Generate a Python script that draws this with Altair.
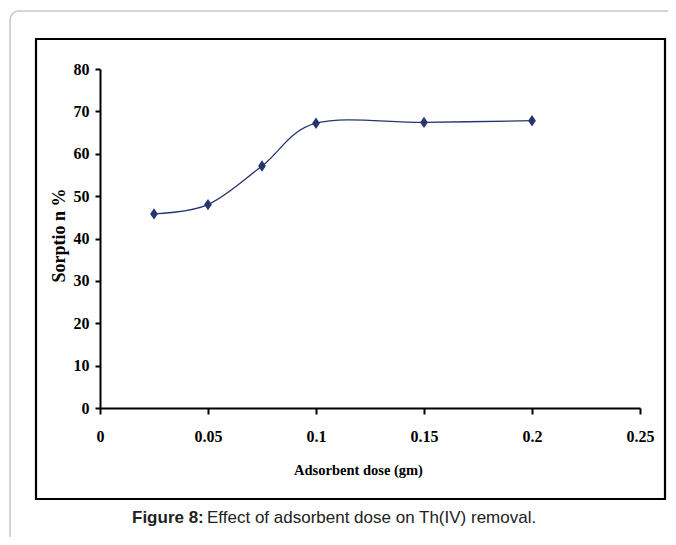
import altair as alt
import pandas as pd

# Data
dose = [0.025, 0.05, 0.075, 0.1, 0.15, 0.2]
sorption = [45.8, 48.0, 57.1, 67.2, 67.4, 67.8]
x_ticks = [0, 0.05, 0.1, 0.15, 0.2, 0.25]
y_ticks = [0, 10, 20, 30, 40, 50, 60, 70, 80]
caption_bold = "Figure 8:"
caption_rest = "Effect of adsorbent dose on Th(IV) removal."
x_title = "Adsorbent dose (gm)"
y_title = "Sorptio n %"

df = pd.DataFrame({"dose": dose, "sorption": sorption})
one = pd.DataFrame({"k": [0]})

W, H = 540, 339
SERIF = "Liberation Serif"
SANS = "Liberation Sans"
NAVY = "#26346f"

x_enc = alt.X(
    "dose:Q",
    scale=alt.Scale(domain=[0, 0.25], nice=False, zero=True),
    axis=alt.Axis(
        values=x_ticks, format="~g", title=x_title, grid=False,
        domainColor="black", domainWidth=2, tickColor="black", tickWidth=2,
        tickSize=6, labelPadding=14, labelFont=SERIF, labelFontWeight="bold",
        labelFontSize=16, labelColor="black", labelFlush=False,
        titleFont=SERIF, titleFontWeight="bold", titleFontSize=14.5,
        titleColor="black", titleX=258, titleY=62, titleBaseline="middle",
        titleAlign="center",
    ),
)
y_enc = alt.Y(
    "sorption:Q",
    scale=alt.Scale(domain=[0, 80], nice=False),
    axis=alt.Axis(
        values=y_ticks, title=y_title, grid=False,
        domainColor="black", domainWidth=2, tickColor="black", tickWidth=2,
        tickSize=5, labelPadding=6, labelFont=SERIF, labelFontWeight="bold",
        labelFontSize=16, labelColor="black", labelFlush=False,
        titleFont=SERIF, titleFontWeight="bold", titleFontSize=18,
        titleColor="black", titleX=-41, titleY=166, titleAngle=270,
        titleAlign="center", titleBaseline="middle",
    ),
)

outer = alt.Chart(one).mark_rect(
    fill=None, stroke="#c8c8c8", strokeWidth=1.5, cornerRadius=9
).encode(x=alt.value(-90), x2=alt.value(620), y=alt.value(-58), y2=alt.value(520))

inner = alt.Chart(one).mark_rect(
    fill=None, stroke="black", strokeWidth=2.2
).encode(x=alt.value(-64), x2=alt.value(565), y=alt.value(-30), y2=alt.value(430))

line = alt.Chart(df).mark_line(
    interpolate="cardinal", color=NAVY, strokeWidth=1.3
).encode(x=x_enc, y=y_enc)

pts = alt.Chart(df).mark_point(
    shape="M0,-1L0.68,0L0,1L-0.68,0Z", filled=True, size=130,
    color=NAVY, opacity=1, strokeWidth=0
).encode(x="dose:Q", y="sorption:Q")

cap1 = alt.Chart(one).mark_text(
    text=caption_bold, font=SANS, fontWeight="bold", fontSize=17,
    align="left", baseline="middle", color="#222"
).encode(x=alt.value(32), y=alt.value(449))

cap2 = alt.Chart(one).mark_text(
    text=caption_rest, font=SANS, fontSize=17,
    align="left", baseline="middle", color="#222"
).encode(x=alt.value(107), y=alt.value(449))

chart = alt.layer(outer, inner, line, pts, cap1, cap2).properties(
    width=W, height=H,
    autosize=alt.AutoSizeParams(type="none"),
    padding={"left": 92, "top": 61, "right": 28, "bottom": 129},
).configure(
    background="white",
    view=alt.ViewConfig(strokeWidth=0, stroke="transparent"),
)

chart.save("out.html", embed_options={"renderer": "svg", "actions": False})
